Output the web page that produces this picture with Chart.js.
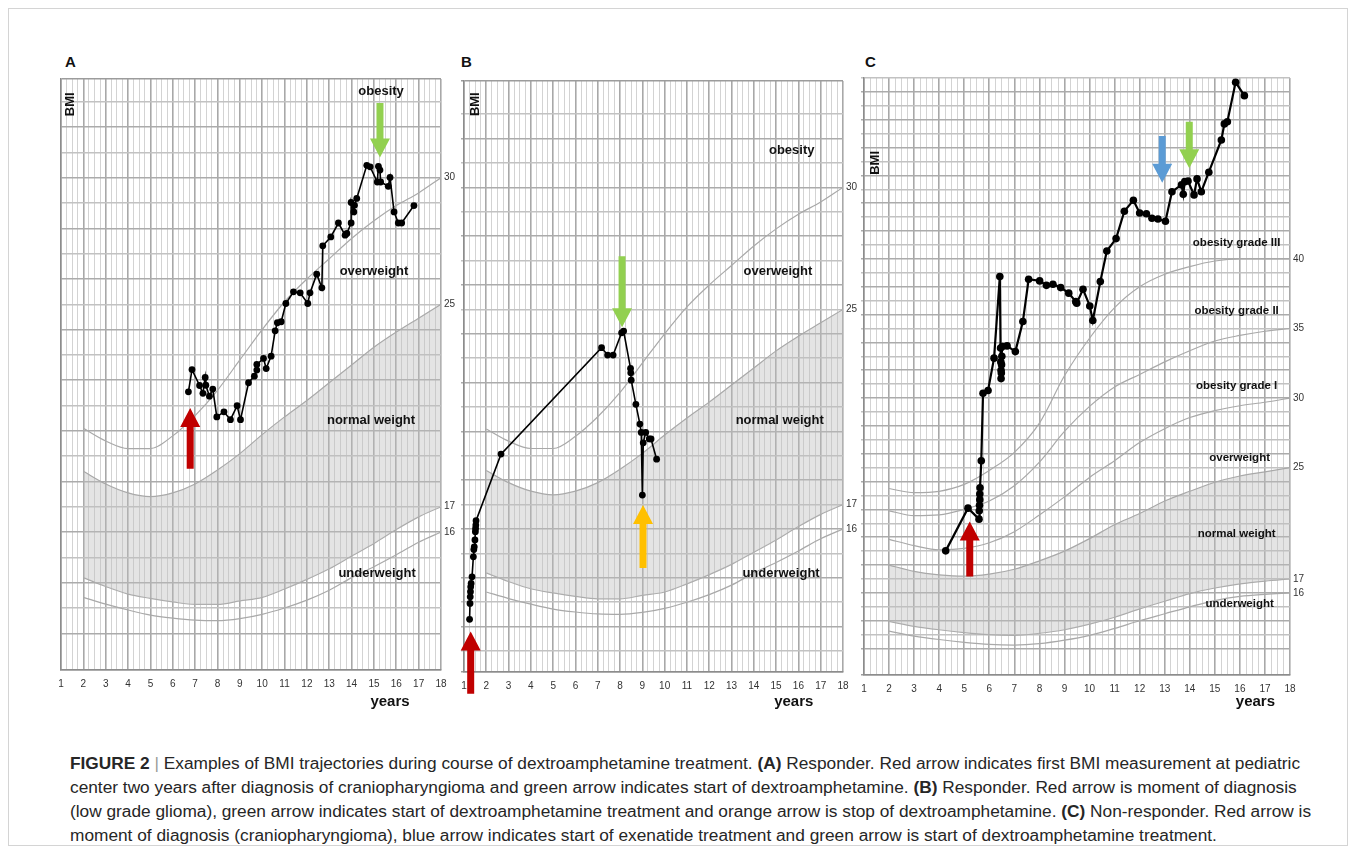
<!DOCTYPE html>
<html>
<head>
<meta charset="utf-8">
<script src="https://cdn.jsdelivr.net/npm/chart.js@4.4.1/dist/chart.umd.min.js"></script>
<style>
  body { margin: 0; background: #fff; width: 1355px; height: 854px; position: relative; overflow: hidden;
         font-family: "Liberation Sans", Arial, sans-serif; }
  .frame { position: absolute; left: 8px; top: 8px; width: 1338px; height: 836px; border: 1px solid #d4d4d4; }
  canvas { position: absolute; }
  .letter { position: absolute; font-weight: bold; font-size: 15px; color: #111; }
  .caption { position: absolute; left: 70px; top: 751px; font-size: 17.3px; line-height: 24px; color: #262626; white-space: nowrap; }
  .caption b { font-weight: bold; }
  .bar { color: #999; }
</style>
</head>
<body>
<div class="frame"></div>
<div class="letter" style="left:65px;top:53px">A</div>
<div class="letter" style="left:461px;top:53px">B</div>
<div class="letter" style="left:865px;top:53px">C</div>
<canvas id="chartA"></canvas>
<canvas id="chartB"></canvas>
<canvas id="chartC"></canvas>
<div class="caption">
<b>FIGURE 2</b> <span class="bar">|</span> Examples of BMI trajectories during course of dextroamphetamine treatment. <b>(A)</b> Responder. Red arrow indicates first BMI measurement at pediatric<br>
center two years after diagnosis of craniopharyngioma and green arrow indicates start of dextroamphetamine. <b>(B)</b> Responder. Red arrow is moment of diagnosis<br>
(low grade glioma), green arrow indicates start of dextroamphetamine treatment and orange arrow is stop of dextroamphetamine. <b>(C)</b> Non-responder. Red arrow is<br>
moment of diagnosis (craniopharyngioma), blue arrow indicates start of exenatide treatment and green arrow is start of dextroamphetamine treatment.
</div>
<script>
// reference curves (age in years -> BMI)
var ages = [2, 3, 4, 5, 6, 7, 8, 9, 10, 11, 12, 13, 14, 15, 16, 17, 18];

var boys30 = [20.1, 19.6, 19.3, 19.3, 19.8, 20.6, 21.6, 22.8, 24.0, 25.1, 26.0, 26.8, 27.6, 28.3, 28.9, 29.4, 30.0];
var boys25 = [18.4, 17.9, 17.55, 17.4, 17.55, 17.9, 18.45, 19.1, 19.85, 20.55, 21.2, 21.9, 22.6, 23.3, 23.9, 24.45, 25.0];
var boys17 = [14.2, 13.85, 13.55, 13.38, 13.24, 13.14, 13.14, 13.28, 13.42, 13.75, 14.13, 14.55, 15.05, 15.55, 16.1, 16.6, 17.0];
var boys16 = [13.42, 13.15, 12.92, 12.72, 12.6, 12.52, 12.5, 12.58, 12.75, 13.0, 13.31, 13.7, 14.2, 14.63, 15.1, 15.6, 16.0];

var girls40 = [23.5, 23.2, 23.3, 23.8, 24.8, 26.1, 28.2, 31.6, 34.3, 36.5, 38.0, 38.9, 39.45, 39.85, 40.0, 40.0, 40.0];
var girls35 = [21.9, 21.55, 21.6, 22.0, 22.6, 23.7, 25.4, 27.6, 29.4, 30.8, 31.7, 32.6, 33.4, 34.1, 34.5, 34.8, 35.0];
var girls30 = [19.85, 19.4, 19.1, 19.2, 19.6, 20.4, 21.6, 22.9, 24.3, 25.5, 26.8, 27.8, 28.6, 29.1, 29.45, 29.7, 30.0];
var girls25 = [18.0, 17.55, 17.3, 17.2, 17.35, 17.7, 18.3, 19.0, 19.9, 20.9, 21.7, 22.6, 23.3, 23.95, 24.4, 24.7, 25.0];
var girls17 = [13.95, 13.6, 13.35, 13.15, 13.0, 12.95, 13.1, 13.35, 13.75, 14.25, 14.85, 15.4, 15.95, 16.35, 16.65, 16.85, 17.0];
var girls16 = [13.25, 12.9, 12.65, 12.45, 12.3, 12.25, 12.35, 12.6, 12.95, 13.45, 14.0, 14.5, 15.0, 15.45, 15.75, 15.9, 16.0];

// patient trajectories
var ageA = [6.70, 6.86, 7.20, 7.35, 7.45, 7.48, 7.64, 7.79, 7.97, 8.29, 8.58, 8.88, 9.03, 9.39, 9.65, 9.76, 9.76, 10.06, 10.18, 10.40,
            10.58, 10.68, 10.85, 11.06, 11.40, 11.70, 12.04, 12.14, 12.44, 12.67, 12.71, 13.07, 13.41, 13.71, 13.79, 13.98, 13.98, 14.10,
            14.13, 14.23, 14.68, 14.83, 15.15, 15.20, 15.27, 15.30, 15.64, 15.72, 15.90, 16.09, 16.24, 16.79];
var bmiA = [21.54, 22.42, 21.79, 21.48, 22.11, 21.80, 21.37, 21.65, 20.55, 20.75, 20.44, 20.99, 20.44, 21.90, 22.16, 22.40, 22.62, 22.86, 22.46, 22.95,
            23.95, 24.27, 24.31, 25.03, 25.49, 25.45, 25.03, 25.45, 26.19, 25.65, 27.31, 27.66, 28.21, 27.73, 27.80, 28.21, 29.02, 28.65,
            28.91, 29.18, 30.49, 30.43, 29.83, 30.45, 30.30, 29.83, 29.66, 30.01, 28.65, 28.21, 28.21, 28.90];

var ageB = [1.25, 1.27, 1.28, 1.29, 1.30, 1.32, 1.36, 1.42, 1.44, 1.46, 1.49, 1.51, 1.52, 1.53, 1.54, 2.66, 7.17, 7.44, 7.69, 8.07, 8.16,
            8.47, 8.48, 8.50, 8.71, 8.89, 8.95, 9.00, 9.04, 9.15, 9.31, 9.39, 9.64];
var bmiB = [12.30, 12.95, 13.22, 13.43, 13.63, 13.77, 14.04, 14.86, 15.16, 15.27, 15.55, 15.89, 16.02, 16.16, 16.34, 19.07, 23.43, 23.13, 23.13, 24.04, 24.11,
            22.58, 22.40, 22.10, 21.11, 20.30, 19.96, 17.39, 19.53, 19.96, 19.69, 19.69, 18.86];

var ageC = [4.26, 5.15, 5.59, 5.60, 5.61, 5.62, 5.62, 5.63, 5.68, 5.75, 5.95, 6.19, 6.42, 6.45, 6.46, 6.47, 6.47, 6.48, 6.49, 6.50, 6.52,
            6.71, 7.04, 7.34, 7.57, 8.01, 8.28, 8.54, 8.85, 9.17, 9.45, 9.49, 9.74, 10.01, 10.13, 10.43, 10.69, 11.06, 11.39, 11.75,
            12.00, 12.27, 12.49, 12.73, 13.03, 13.29, 13.67, 13.74, 13.80, 13.93, 14.17, 14.29, 14.46, 14.76, 15.26, 15.38, 15.50, 15.83, 16.18];
var bmiC = [19.02, 22.09, 21.30, 21.90, 22.30, 22.70, 23.10, 23.55, 25.49, 30.35, 30.54, 32.87, 38.73, 33.60, 32.60, 32.00, 31.40, 31.80, 32.40, 33.00, 33.70,
            33.75, 33.34, 35.50, 38.54, 38.42, 38.10, 38.18, 37.94, 37.54, 36.93, 36.82, 37.82, 36.62, 35.57, 38.37, 40.57, 41.46, 43.43, 44.22,
            43.30, 43.25, 42.92, 42.87, 42.71, 44.83, 45.32, 44.65, 45.55, 45.60, 44.60, 45.75, 44.83, 46.23, 48.55, 49.70, 49.86, 52.69, 51.73];

var FONT = "'Liberation Sans', Arial, sans-serif";
var PAD = { l: 30, r: 40, t: 30, b: 26 };
var XAXIS_H = 24;   // height kept for the year labels (they are clipped to the axis box)

function pts(xs, ys) {
  return xs.map(function (x, i) { return { x: x, y: ys[i] }; });
}

function isWhole(v) { return Math.abs(v - Math.round(v)) < 1e-6; }

function drawArrow(ctx, x, yFrom, yTo, color) {
  var dir = yTo > yFrom ? 1 : -1;
  var head = 19, half = 10, shaft = 3.5;
  var base = yTo - dir * head;
  ctx.fillStyle = color;
  ctx.beginPath();
  ctx.moveTo(x - shaft, yFrom);
  ctx.lineTo(x + shaft, yFrom);
  ctx.lineTo(x + shaft, base);
  ctx.lineTo(x + half, base);
  ctx.lineTo(x, yTo);
  ctx.lineTo(x - half, base);
  ctx.lineTo(x - shaft, base);
  ctx.closePath();
  ctx.fill();
}

var extras = {
  id: "extras",
  afterDatasetsDraw: function (chart, args, o) {
    var ctx = chart.ctx, xs = chart.scales.x, ys = chart.scales.y, area = chart.chartArea;
    ctx.save();
    ctx.fillStyle = "#111";
    ctx.textAlign = "center";
    ctx.textBaseline = "middle";
    ctx.font = "bold " + o.zoneSize + "px " + FONT;
    o.zones.forEach(function (z) {
      ctx.fillText(z[0], xs.getPixelForValue(z[1]), ys.getPixelForValue(z[2]));
    });
    ctx.font = "10px " + FONT;
    ctx.fillStyle = "#333";
    ctx.textAlign = "left";
    o.ends.forEach(function (v) {
      ctx.fillText(String(v), area.right + 3, ys.getPixelForValue(v));
    });
    ctx.fillStyle = "#111";
    ctx.save();
    ctx.translate(xs.getPixelForValue(o.bmi[0]), ys.getPixelForValue(o.bmi[1]));
    ctx.rotate(-Math.PI / 2);
    ctx.textAlign = "center";
    ctx.font = "bold 13px " + FONT;
    ctx.fillText("BMI", 0, 0);
    ctx.restore();
    ctx.textAlign = "center";
    ctx.font = "bold 15px " + FONT;
    ctx.fillText("years", xs.getPixelForValue(o.years), area.bottom + o.yearsDy);
    o.arrows.forEach(function (a) {
      drawArrow(ctx, xs.getPixelForValue(a[0]), ys.getPixelForValue(a[1]), ys.getPixelForValue(a[2]), a[3]);
    });
    ctx.restore();
  }
};

function makeChart(id, geo, yMin, yMax, curves, traj, opts) {
  var cv = document.getElementById(id);
  var w = geo.right - geo.left + PAD.l + PAD.r;
  var h = geo.bottom - geo.top + PAD.t + PAD.b + XAXIS_H;
  cv.width = w; cv.height = h;
  cv.style.left = (geo.left - PAD.l) + "px";
  cv.style.top = (geo.top - PAD.t) + "px";

  var datasets = [{
    data: traj.data,
    borderColor: "#000",
    borderWidth: traj.width,
    pointRadius: traj.radius,
    pointBackgroundColor: "#000",
    pointBorderWidth: 0,
    tension: 0,
    fill: false,
    order: 0
  }];
  curves.forEach(function (c, i) {
    datasets.push({
      data: pts(ages, c),
      borderColor: "#a9a9a9",
      borderWidth: 1.2,
      pointRadius: 0,
      cubicInterpolationMode: "monotone",
      fill: i === opts.bandIndex ? "+1" : false,
      backgroundColor: "rgba(190,190,190,0.42)",
      order: 1
    });
  });

  return new Chart(cv, {
    type: "line",
    data: { datasets: datasets },
    options: {
      responsive: false,
      animation: false,
      devicePixelRatio: 1,
      layout: { padding: { left: PAD.l, right: PAD.r, top: PAD.t, bottom: PAD.b } },
      plugins: { legend: { display: false }, tooltip: { enabled: false }, extras: opts },
      scales: {
        x: {
          type: "linear", min: 1, max: 18,
          afterFit: function (s) { s.height = XAXIS_H; },
          border: { color: "#8c8c8c", width: 1.5 },
          grid: {
            drawTicks: false,
            color: function (c) { return isWhole(c.tick.value) ? "#a8a8a8" : "#d3d3d3"; },
            lineWidth: function (c) { return isWhole(c.tick.value) ? 1.6 : 1; }
          },
          ticks: {
            stepSize: 0.25, autoSkip: false, maxRotation: 0, padding: 8,
            color: "#333", font: { size: 10, family: FONT },
            callback: function (v) { return isWhole(v) ? String(Math.round(v)) : ""; }
          }
        },
        y: {
          type: "linear", min: yMin, max: yMax,
          afterFit: function (s) { s.width = 0; },
          border: { color: "#8c8c8c", width: 1.5 },
          grid: {
            drawTicks: opts.leftTicks, tickLength: 3,
            color: function (c) {
              var v = c.tick.value;
              if (!isWhole(v)) return "#9c9c9c";
              return Math.round(v) % 2 === 0 ? "#ababab" : "#c2c2c2";
            },
            lineWidth: 1.5
          },
          ticks: { display: false, stepSize: 1 }
        }
      }
    },
    plugins: [extras]
  });
}

var boysCurves = [boys30, boys25, boys17, boys16];
var girlsCurves = [girls40, girls35, girls30, girls25, girls17, girls16];

makeChart("chartA", { left: 61, top: 79, right: 441, bottom: 670 }, 10.55, 33.9, boysCurves,
  { data: pts(ageA, bmiA), width: 1.6, radius: 3.4 },
  {
    bandIndex: 1, zoneSize: 13, leftTicks: false,
    zones: [["obesity", 15.32, 33.42], ["overweight", 15.0, 26.31], ["normal weight", 14.87, 20.42], ["underweight", 15.14, 14.38]],
    ends: [30, 25, 17, 16],
    bmi: [1.42, 32.9], years: 15.72, yearsDy: 32,
    arrows: [[6.78, 18.5, 20.9, "#c00000"], [15.27, 32.95, 30.8, "#92d050"]]
  });

makeChart("chartB", { left: 464, top: 81, right: 843, bottom: 672 }, 10.14, 34.36, boysCurves,
  { data: pts(ageB, bmiB), width: 1.6, radius: 3.4 },
  {
    bandIndex: 1, zoneSize: 13, leftTicks: true,
    zones: [["obesity", 15.7, 31.53], ["overweight", 15.08, 26.57], ["normal weight", 15.16, 20.46], ["underweight", 15.22, 14.19]],
    ends: [30, 25, 17, 16],
    bmi: [1.51, 33.41], years: 15.79, yearsDy: 30,
    arrows: [[1.3, 9.25, 11.8, "#c00000"], [8.09, 27.18, 24.27, "#92d050"], [9.03, 14.4, 16.98, "#ffc000"]]
  });

makeChart("chartC", { left: 864, top: 78, right: 1290, bottom: 675 }, 10.1, 53.0, girlsCurves,
  { data: pts(ageC, bmiC), width: 2.2, radius: 3.8 },
  {
    bandIndex: 3, zoneSize: 11.5, leftTicks: true,
    zones: [["obesity grade III", 15.87, 41.15], ["obesity grade II", 15.87, 36.26], ["obesity grade I", 15.87, 30.88],
            ["overweight", 15.99, 25.7], ["normal weight", 15.87, 20.24], ["underweight", 15.99, 15.22]],
    ends: [40, 35, 30, 25, 17, 16],
    bmi: [1.47, 46.9], years: 16.62, yearsDy: 27,
    arrows: [[5.22, 17.18, 21.13, "#c00000"], [12.9, 48.84, 45.48, "#5b9bd5"], [13.98, 49.86, 46.52, "#92d050"]]
  });
</script>
</body>
</html>
